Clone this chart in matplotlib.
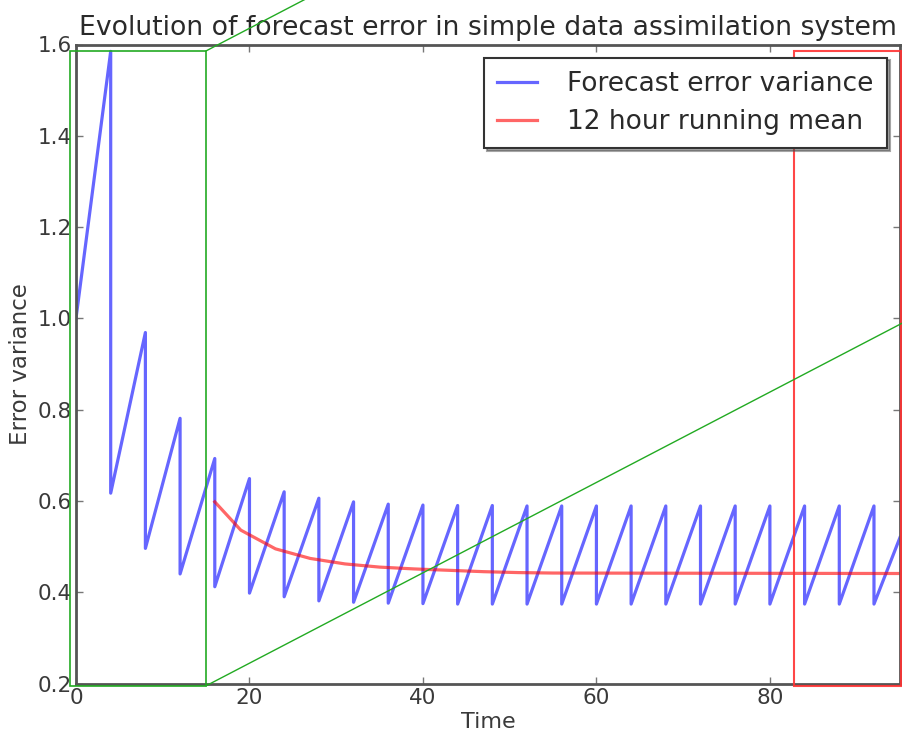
import matplotlib
matplotlib.use("Agg")
import matplotlib.pyplot as plt
from matplotlib.patches import Rectangle

# ---- data ----
start_time = 0
start_value = 1.0
analysis_times = [4, 8, 12, 16, 20, 24, 28, 32, 36, 40, 44, 48,
                  52, 56, 60, 64, 68, 72, 76, 80, 84, 88, 92]
peak_values = [1.585, 0.969, 0.781, 0.693, 0.649, 0.620, 0.606, 0.598,
               0.593, 0.591, 0.590, 0.590, 0.589, 0.589, 0.589, 0.589,
               0.589, 0.589, 0.589, 0.589, 0.589, 0.589, 0.589]
trough_values = [0.617, 0.496, 0.440, 0.412, 0.398, 0.390, 0.381, 0.378,
                 0.376, 0.375, 0.374, 0.374, 0.374, 0.374, 0.374, 0.374,
                 0.374, 0.374, 0.374, 0.374, 0.374, 0.374, 0.374]
end_time = 95
end_value = 0.52

mean_times = [16, 19, 23, 27, 31, 35, 39, 43, 47, 51, 55, 95]
mean_values = [0.598, 0.536, 0.495, 0.474, 0.462, 0.455, 0.451, 0.448,
               0.445, 0.443, 0.442, 0.441]

xticks = [0, 20, 40, 60, 80]
yticks = [0.2, 0.4, 0.6, 0.8, 1.0, 1.2, 1.4, 1.6]

# zoom-box decorations (data coords)
green_box = (-0.7, 0.195, 15.0, 1.586)   # x0, y0, x1, y1
red_box = (82.8, 0.195, 95.1, 1.586)

# ---- build series ----
t = [start_time]
v = [start_value]
for ta, p, tr in zip(analysis_times, peak_values, trough_values):
    t += [ta, ta]
    v += [p, tr]
t.append(end_time)
v.append(end_value)

fig = plt.figure(figsize=(9.02, 7.41), dpi=100)
ax = fig.add_axes([76 / 902, 1 - 683.5 / 741, 824 / 902, 639 / 741])

ax.plot(t, v, color="blue", alpha=0.6, lw=2.3, label="Forecast error variance")
ax.plot(mean_times, mean_values, color="red", alpha=0.6, lw=2.3,
        label="12 hour running mean")

ax.set_xlim(0, 95)
ax.set_ylim(0.2, 1.6)
ax.set_xticks(xticks)
ax.set_yticks(yticks)
ax.set_yticklabels([f"{y:.1f}" for y in yticks])
ax.tick_params(direction="in", top=True, right=True, length=5, width=1,
               color="#777777", labelsize=15.5, labelcolor="#3a3a3a", pad=3)
for s in ax.spines.values():
    s.set_linewidth(2)
    s.set_color("#555555")

ax.set_title("Evolution of forecast error in simple data assimilation system",
             fontsize=19.2, color="#2a2a2a", pad=7)
ax.set_xlabel("Time", fontsize=16, color="#3a3a3a", labelpad=3)
ax.set_ylabel("Error variance", fontsize=16.5, color="#3a3a3a", labelpad=4)

leg = ax.legend(loc="upper right", fontsize=19, shadow=True, fancybox=False,
                borderaxespad=0.5, handlelength=1.5, handletextpad=1.15,
                borderpad=0.5, labelspacing=0.45)
leg.get_frame().set_edgecolor("#333333")
leg.get_frame().set_linewidth(1.5)
for txt in leg.get_texts():
    txt.set_color("#2a2a2a")

# zoom rectangles
gx0, gy0, gx1, gy1 = green_box
ax.add_patch(Rectangle((gx0, gy0), gx1 - gx0, gy1 - gy0, fill=False,
                       edgecolor="#22aa22", lw=1.2, clip_on=False, zorder=5))
rx0, ry0, rx1, ry1 = red_box
ax.add_patch(Rectangle((rx0, ry0), rx1 - rx0, ry1 - ry0, fill=False,
                       edgecolor="#ff3333", lw=1.5, alpha=0.9, clip_on=False,
                       zorder=5))

# connector lines (parallel, slope measured in the image)
slope = 0.0099  # data-y per data-x
ax.plot([gx1, gx1 + 20], [gy1, gy1 + slope * 20], color="#22aa22", lw=1.0,
        clip_on=False, zorder=5)
ax.plot([gx1, gx1 + 85], [gy0, gy0 + slope * 85], color="#22aa22", lw=1.0,
        clip_on=False, zorder=5)

fig.savefig("out.png", dpi=100)
